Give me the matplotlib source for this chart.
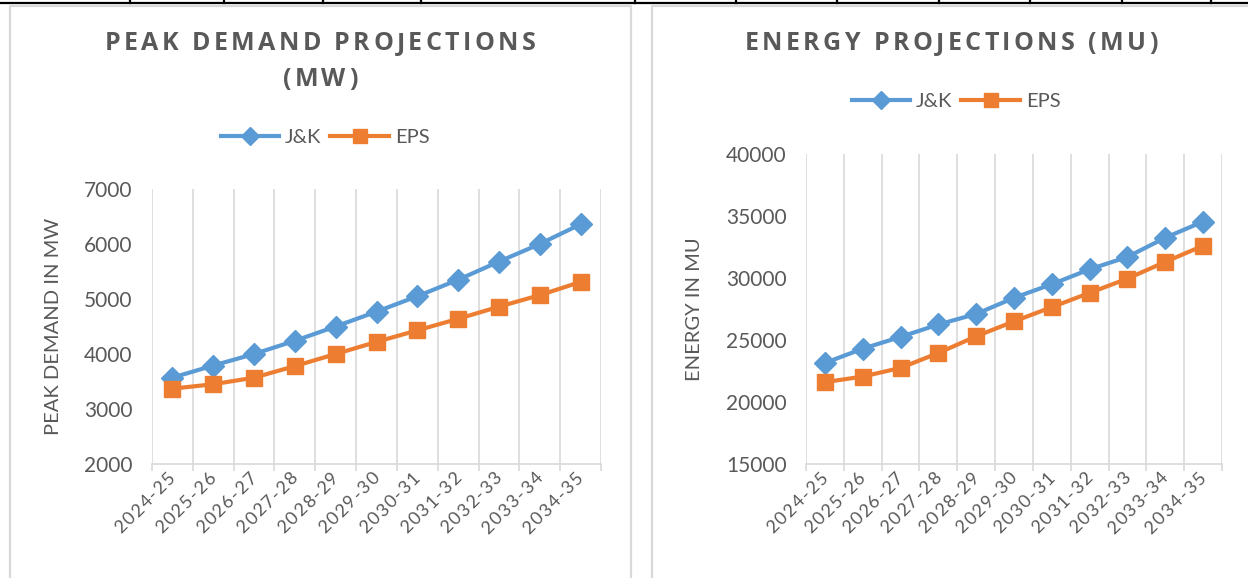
import matplotlib
matplotlib.use('Agg')
import math
import matplotlib.pyplot as plt
from matplotlib.lines import Line2D
from matplotlib.font_manager import FontProperties

years = ['2024-25', '2025-26', '2026-27', '2027-28', '2028-29', '2029-30',
         '2030-31', '2031-32', '2032-33', '2033-34', '2034-35']

# peak demand, MW
peak_jk = [3570, 3790, 4000, 4240, 4500, 4770, 5050, 5350, 5680, 6000, 6360]
peak_eps = [3370, 3450, 3570, 3780, 4000, 4220, 4430, 4640, 4860, 5070, 5310]

# energy requirement, MU
energy_jk = [23150, 24300, 25250, 26250, 27100, 28400, 29500, 30700, 31700, 33250, 34550]
energy_eps = [21600, 22050, 22750, 23950, 25300, 26500, 27650, 28800, 29950, 31300, 32600]

BLUE = '#5B9BD5'
ORANGE = '#ED7D31'
TXT = '#595959'
GRID = '#D9D9D9'
FONT = 'Lato'

W, H = 1248, 578
fig = plt.figure(figsize=(W / 100, H / 100), dpi=100)
renderer = fig.canvas.get_renderer()


def px(x, y):
    # pixel position (from top-left) -> figure fraction
    return x / W, 1 - y / H


def add_axes(left, top, right, bottom):
    x0, y0 = px(left, bottom)
    x1, y1 = px(right, top)
    return fig.add_axes([x0, y0, x1 - x0, y1 - y0])


def text_width(t, prop):
    return renderer.get_text_width_height_descent(t, prop, ismath=False)[0] if t else 0


def spaced_text(cx, cy, s, spacing, prop):
    # draw a string centred at pixel (cx, cy) with extra tracking between letters
    total = text_width(s, prop) + spacing * (len(s) - 1)
    x0 = cx - total / 2
    for i, ch in enumerate(s):
        if ch == ' ':
            continue
        x = x0 + text_width(s[:i], prop) + spacing * i
        fig.text(*px(x, cy), ch, ha='left', va='center', fontproperties=prop, color=TXT)


def slanted_label(ex, ey, s, spacing, prop, angle=45):
    # label rising at `angle`, whose baseline ends at pixel (ex, ey)
    c, sn = math.cos(math.radians(angle)), math.sin(math.radians(angle))
    total = text_width(s, prop) + spacing * (len(s) - 1)
    for i, ch in enumerate(s):
        back = total - (text_width(s[:i], prop) + spacing * i)
        x, y = ex - back * c, ey + back * sn
        fig.text(*px(x, y), ch, ha='left', va='baseline', rotation=angle,
                 rotation_mode='anchor', fontproperties=prop, color=TXT)


tick_prop = FontProperties(family=FONT, size=13)


def draw_panel(ax, jk, eps, ylim, ystep, ylabel, left, right, bottom):
    x = list(range(len(years)))
    ax.plot(x, jk, color=BLUE, lw=3, marker='D', ms=11, zorder=3)
    ax.plot(x, eps, color=ORANGE, lw=3, marker='s', ms=12, zorder=3)
    ax.set_xlim(-0.5, len(years) - 0.5)
    ax.set_ylim(*ylim)
    ax.set_yticks(range(ylim[0], ylim[1] + 1, ystep))
    for lab in ax.get_yticklabels():
        lab.set_fontsize(15)
        lab.set_color(TXT)
        lab.set_family(FONT)
    ax.tick_params(axis='y', length=0, pad=14)
    # category labels are drawn by hand so the letters can be tracked out
    ax.set_xticks([])
    step = (right - left) / len(years)
    for i, yr in enumerate(years):
        cx = left + step * (i + 0.5)
        slanted_label(cx + 4, bottom + 15, yr, 1.5, tick_prop)
    # vertical gridlines on the category boundaries, with short ticks below the axis
    bounds = [i - 0.5 for i in range(len(years) + 1)]
    ax.set_xticks(bounds, minor=True)
    ax.set_xticklabels([], minor=True)
    ax.tick_params(axis='x', which='minor', length=5, width=1.2, color=GRID)
    ax.grid(True, which='minor', axis='x', color=GRID, lw=1.2)
    for side in ['top', 'right', 'left']:
        ax.spines[side].set_visible(False)
    ax.spines['bottom'].set_color(GRID)
    ax.spines['bottom'].set_linewidth(1.2)
    ax.set_ylabel(ylabel, fontsize=14.5, color=TXT, family=FONT)
    ax.set_facecolor('none')


def legend_at(cx, cy):
    handles = [Line2D([], [], color=BLUE, lw=3, marker='D', ms=9),
               Line2D([], [], color=ORANGE, lw=3, marker='s', ms=10)]
    x, y = px(cx, cy)
    leg = fig.legend(handles, ['J&K', 'EPS'], loc='center', bbox_to_anchor=(x, y),
                     ncol=2, frameon=False, handlelength=2.9, handletextpad=0.3,
                     columnspacing=0.45, prop={'family': FONT, 'size': 14.5})
    for t in leg.get_texts():
        t.set_color(TXT)


# page furniture: table border on top and the two chart frames
fig.add_artist(Line2D([0, 1], [px(0, 3)[1]] * 2, color='black', lw=1.6))
for tx in [130, 224, 323, 421, 635, 736, 837, 939, 1030, 1122, 1211]:
    fig.add_artist(Line2D([tx / W] * 2, [px(0, 0)[1], px(0, 3)[1]], color='black', lw=1.6))
for fx0, fx1 in [(10, 631), (652, 1260)]:
    fig.add_artist(Line2D([fx0 / W, fx0 / W, fx1 / W, fx1 / W],
                          [0, px(0, 6)[1], px(0, 6)[1], 0], color=GRID, lw=1.6))

ax1 = add_axes(152, 189, 601, 464)
draw_panel(ax1, peak_jk, peak_eps, (2000, 7000), 1000, 'PEAK DEMAND IN MW', 152, 601, 464)
ax1.yaxis.set_label_coords(px(62, 0)[0], px(0, 326)[1], transform=fig.transFigure)

ax2 = add_axes(806, 154, 1222, 464)
draw_panel(ax2, energy_jk, energy_eps, (15000, 40000), 5000, 'ENERGY IN MU', 806, 1222, 464)
ax2.yaxis.set_label_coords(px(703, 0)[0], px(0, 309)[1], transform=fig.transFigure)

title_prop = FontProperties(family='Open Sans', weight='bold', size=18)
spaced_text(320, 44, 'PEAK DEMAND PROJECTIONS', 3.4, title_prop)
spaced_text(320, 79, '(MW)', 3.4, title_prop)
spaced_text(951, 44, 'ENERGY PROJECTIONS (MU)', 3.4, title_prop)

legend_at(325, 137)
legend_at(956, 101)

fig.savefig('out.png', dpi=100, facecolor='white')
